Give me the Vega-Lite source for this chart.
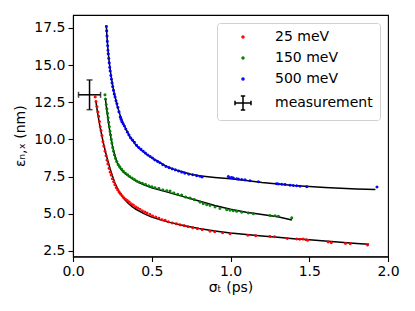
{
  "$schema": "https://vega.github.io/schema/vega-lite/v6.json",
  "width": 315,
  "height": 241.5,
  "autosize": {"type": "none"},
  "padding": {"left": 73, "top": 15, "right": 27, "bottom": 54.5},
  "background": "white",
  "config": {
    "font": "DejaVu Sans",
    "view": {"stroke": "black", "strokeWidth": 1.1},
    "axis": {
      "grid": false,
      "domainColor": "black",
      "domainWidth": 1.1,
      "tickColor": "black",
      "tickWidth": 1.1,
      "tickSize": 5,
      "labelFont": "DejaVu Sans",
      "labelFontSize": 14,
      "labelColor": "black",
      "labelPadding": 3,
      "labelFlush": false,
      "titleFont": "DejaVu Sans",
      "titleFontSize": 14,
      "titleFontWeight": "normal",
      "titleColor": "black"
    }
  },
  "datasets": {
    "pts": [
      {"s": "25 meV", "x": 0.141, "y": 12.85}, {"s": "25 meV", "x": 0.146, "y": 12.55}, {"s": "25 meV", "x": 0.152, "y": 12.2}, {"s": "25 meV", "x": 0.158, "y": 11.85}, {"s": "25 meV", "x": 0.163, "y": 11.55}, {"s": "25 meV", "x": 0.168, "y": 11.2}, {"s": "25 meV", "x": 0.173, "y": 10.85}, {"s": "25 meV", "x": 0.178, "y": 10.6}, {"s": "25 meV", "x": 0.184, "y": 10.25}, {"s": "25 meV", "x": 0.19, "y": 9.85}, {"s": "25 meV", "x": 0.196, "y": 9.55}, {"s": "25 meV", "x": 0.203, "y": 9.2}, {"s": "25 meV", "x": 0.21, "y": 8.9}, {"s": "25 meV", "x": 0.216, "y": 8.6}, {"s": "25 meV", "x": 0.222, "y": 8.35}, {"s": "25 meV", "x": 0.229, "y": 8.05}, {"s": "25 meV", "x": 0.236, "y": 7.8}, {"s": "25 meV", "x": 0.243, "y": 7.6}, {"s": "25 meV", "x": 0.25, "y": 7.35}, {"s": "25 meV", "x": 0.258, "y": 7.15}, {"s": "25 meV", "x": 0.266, "y": 6.95}, {"s": "25 meV", "x": 0.275, "y": 6.75}, {"s": "25 meV", "x": 0.284, "y": 6.6}, {"s": "25 meV", "x": 0.293, "y": 6.45}, {"s": "25 meV", "x": 0.302, "y": 6.33}, {"s": "25 meV", "x": 0.312, "y": 6.2}, {"s": "25 meV", "x": 0.322, "y": 6.08}, {"s": "25 meV", "x": 0.333, "y": 5.97}, {"s": "25 meV", "x": 0.345, "y": 5.88}, {"s": "25 meV", "x": 0.357, "y": 5.78}, {"s": "25 meV", "x": 0.37, "y": 5.67}, {"s": "25 meV", "x": 0.383, "y": 5.58}, {"s": "25 meV", "x": 0.397, "y": 5.47}, {"s": "25 meV", "x": 0.41, "y": 5.38}, {"s": "25 meV", "x": 0.425, "y": 5.3}, {"s": "25 meV", "x": 0.44, "y": 5.2}, {"s": "25 meV", "x": 0.455, "y": 5.12}, {"s": "25 meV", "x": 0.47, "y": 5.05}, {"s": "25 meV", "x": 0.488, "y": 4.95}, {"s": "25 meV", "x": 0.505, "y": 4.85}, {"s": "25 meV", "x": 0.525, "y": 4.78}, {"s": "25 meV", "x": 0.545, "y": 4.7}, {"s": "25 meV", "x": 0.565, "y": 4.6}, {"s": "25 meV", "x": 0.585, "y": 4.55}, {"s": "25 meV", "x": 0.605, "y": 4.46}, {"s": "25 meV", "x": 0.63, "y": 4.38}, {"s": "25 meV", "x": 0.655, "y": 4.33}, {"s": "25 meV", "x": 0.68, "y": 4.25}, {"s": "25 meV", "x": 0.705, "y": 4.2}, {"s": "25 meV", "x": 0.73, "y": 4.12}, {"s": "25 meV", "x": 0.76, "y": 4.06}, {"s": "25 meV", "x": 0.79, "y": 4.0}, {"s": "25 meV", "x": 0.82, "y": 3.93}, {"s": "25 meV", "x": 0.87, "y": 3.82}, {"s": "25 meV", "x": 0.9, "y": 3.79}, {"s": "25 meV", "x": 0.95, "y": 3.72}, {"s": "25 meV", "x": 0.997, "y": 3.65}, {"s": "25 meV", "x": 1.11, "y": 3.55}, {"s": "25 meV", "x": 1.16, "y": 3.52}, {"s": "25 meV", "x": 1.25, "y": 3.47}, {"s": "25 meV", "x": 1.28, "y": 3.45}, {"s": "25 meV", "x": 1.36, "y": 3.33}, {"s": "25 meV", "x": 1.42, "y": 3.3}, {"s": "25 meV", "x": 1.44, "y": 3.28}, {"s": "25 meV", "x": 1.46, "y": 3.3}, {"s": "25 meV", "x": 1.48, "y": 3.25}, {"s": "25 meV", "x": 1.49, "y": 3.22}, {"s": "25 meV", "x": 1.62, "y": 3.1}, {"s": "25 meV", "x": 1.64, "y": 3.05}, {"s": "25 meV", "x": 1.73, "y": 3.0}, {"s": "25 meV", "x": 1.76, "y": 2.98}, {"s": "25 meV", "x": 1.87, "y": 2.9},
      {"s": "150 meV", "x": 0.203, "y": 13.0}, {"s": "150 meV", "x": 0.207, "y": 12.7}, {"s": "150 meV", "x": 0.211, "y": 12.35}, {"s": "150 meV", "x": 0.215, "y": 12.05}, {"s": "150 meV", "x": 0.219, "y": 11.75}, {"s": "150 meV", "x": 0.223, "y": 11.45}, {"s": "150 meV", "x": 0.227, "y": 11.15}, {"s": "150 meV", "x": 0.231, "y": 10.85}, {"s": "150 meV", "x": 0.235, "y": 10.55}, {"s": "150 meV", "x": 0.239, "y": 10.3}, {"s": "150 meV", "x": 0.243, "y": 10.0}, {"s": "150 meV", "x": 0.247, "y": 9.75}, {"s": "150 meV", "x": 0.252, "y": 9.45}, {"s": "150 meV", "x": 0.257, "y": 9.2}, {"s": "150 meV", "x": 0.263, "y": 8.95}, {"s": "150 meV", "x": 0.27, "y": 8.72}, {"s": "150 meV", "x": 0.278, "y": 8.5}, {"s": "150 meV", "x": 0.287, "y": 8.3}, {"s": "150 meV", "x": 0.297, "y": 8.15}, {"s": "150 meV", "x": 0.308, "y": 8.0}, {"s": "150 meV", "x": 0.32, "y": 7.85}, {"s": "150 meV", "x": 0.333, "y": 7.72}, {"s": "150 meV", "x": 0.347, "y": 7.62}, {"s": "150 meV", "x": 0.36, "y": 7.5}, {"s": "150 meV", "x": 0.375, "y": 7.4}, {"s": "150 meV", "x": 0.39, "y": 7.3}, {"s": "150 meV", "x": 0.405, "y": 7.2}, {"s": "150 meV", "x": 0.42, "y": 7.12}, {"s": "150 meV", "x": 0.44, "y": 7.05}, {"s": "150 meV", "x": 0.46, "y": 6.97}, {"s": "150 meV", "x": 0.48, "y": 6.88}, {"s": "150 meV", "x": 0.5, "y": 6.82}, {"s": "150 meV", "x": 0.52, "y": 6.75}, {"s": "150 meV", "x": 0.545, "y": 6.7}, {"s": "150 meV", "x": 0.57, "y": 6.6}, {"s": "150 meV", "x": 0.595, "y": 6.55}, {"s": "150 meV", "x": 0.616, "y": 6.52}, {"s": "150 meV", "x": 0.64, "y": 6.4}, {"s": "150 meV", "x": 0.665, "y": 6.3}, {"s": "150 meV", "x": 0.69, "y": 6.25}, {"s": "150 meV", "x": 0.715, "y": 6.12}, {"s": "150 meV", "x": 0.743, "y": 6.05}, {"s": "150 meV", "x": 0.77, "y": 5.95}, {"s": "150 meV", "x": 0.806, "y": 5.78}, {"s": "150 meV", "x": 0.827, "y": 5.68}, {"s": "150 meV", "x": 0.849, "y": 5.6}, {"s": "150 meV", "x": 0.87, "y": 5.55}, {"s": "150 meV", "x": 0.902, "y": 5.45}, {"s": "150 meV", "x": 0.933, "y": 5.35}, {"s": "150 meV", "x": 0.976, "y": 5.27}, {"s": "150 meV", "x": 0.997, "y": 5.24}, {"s": "150 meV", "x": 1.018, "y": 5.2}, {"s": "150 meV", "x": 1.039, "y": 5.16}, {"s": "150 meV", "x": 1.071, "y": 5.1}, {"s": "150 meV", "x": 1.113, "y": 5.05}, {"s": "150 meV", "x": 1.145, "y": 5.0}, {"s": "150 meV", "x": 1.251, "y": 4.88}, {"s": "150 meV", "x": 1.283, "y": 4.86}, {"s": "150 meV", "x": 1.304, "y": 4.83}, {"s": "150 meV", "x": 1.389, "y": 4.72},
      {"s": "500 meV", "x": 0.212, "y": 17.6}, {"s": "500 meV", "x": 0.214, "y": 17.3}, {"s": "500 meV", "x": 0.216, "y": 16.95}, {"s": "500 meV", "x": 0.218, "y": 16.6}, {"s": "500 meV", "x": 0.22, "y": 16.3}, {"s": "500 meV", "x": 0.222, "y": 16.0}, {"s": "500 meV", "x": 0.224, "y": 15.75}, {"s": "500 meV", "x": 0.227, "y": 15.45}, {"s": "500 meV", "x": 0.23, "y": 15.15}, {"s": "500 meV", "x": 0.233, "y": 14.85}, {"s": "500 meV", "x": 0.236, "y": 14.6}, {"s": "500 meV", "x": 0.24, "y": 14.3}, {"s": "500 meV", "x": 0.244, "y": 14.05}, {"s": "500 meV", "x": 0.248, "y": 13.8}, {"s": "500 meV", "x": 0.252, "y": 13.55}, {"s": "500 meV", "x": 0.257, "y": 13.3}, {"s": "500 meV", "x": 0.262, "y": 13.05}, {"s": "500 meV", "x": 0.267, "y": 12.85}, {"s": "500 meV", "x": 0.273, "y": 12.6}, {"s": "500 meV", "x": 0.279, "y": 12.4}, {"s": "500 meV", "x": 0.285, "y": 12.15}, {"s": "500 meV", "x": 0.292, "y": 11.85}, {"s": "500 meV", "x": 0.3, "y": 11.5}, {"s": "500 meV", "x": 0.305, "y": 11.35}, {"s": "500 meV", "x": 0.31, "y": 11.2}, {"s": "500 meV", "x": 0.318, "y": 11.05}, {"s": "500 meV", "x": 0.326, "y": 10.9}, {"s": "500 meV", "x": 0.335, "y": 10.7}, {"s": "500 meV", "x": 0.345, "y": 10.5}, {"s": "500 meV", "x": 0.355, "y": 10.3}, {"s": "500 meV", "x": 0.366, "y": 10.1}, {"s": "500 meV", "x": 0.378, "y": 9.95}, {"s": "500 meV", "x": 0.39, "y": 9.8}, {"s": "500 meV", "x": 0.404, "y": 9.6}, {"s": "500 meV", "x": 0.418, "y": 9.45}, {"s": "500 meV", "x": 0.432, "y": 9.33}, {"s": "500 meV", "x": 0.446, "y": 9.2}, {"s": "500 meV", "x": 0.46, "y": 9.08}, {"s": "500 meV", "x": 0.475, "y": 8.95}, {"s": "500 meV", "x": 0.49, "y": 8.85}, {"s": "500 meV", "x": 0.505, "y": 8.75}, {"s": "500 meV", "x": 0.52, "y": 8.62}, {"s": "500 meV", "x": 0.537, "y": 8.52}, {"s": "500 meV", "x": 0.552, "y": 8.43}, {"s": "500 meV", "x": 0.57, "y": 8.3}, {"s": "500 meV", "x": 0.59, "y": 8.18}, {"s": "500 meV", "x": 0.61, "y": 8.1}, {"s": "500 meV", "x": 0.63, "y": 8.02}, {"s": "500 meV", "x": 0.65, "y": 7.95}, {"s": "500 meV", "x": 0.67, "y": 7.88}, {"s": "500 meV", "x": 0.69, "y": 7.8}, {"s": "500 meV", "x": 0.71, "y": 7.73}, {"s": "500 meV", "x": 0.735, "y": 7.66}, {"s": "500 meV", "x": 0.76, "y": 7.62}, {"s": "500 meV", "x": 0.785, "y": 7.56}, {"s": "500 meV", "x": 0.806, "y": 7.52}, {"s": "500 meV", "x": 0.82, "y": 7.47}, {"s": "500 meV", "x": 0.986, "y": 7.5}, {"s": "500 meV", "x": 0.997, "y": 7.42}, {"s": "500 meV", "x": 1.008, "y": 7.43}, {"s": "500 meV", "x": 1.018, "y": 7.4}, {"s": "500 meV", "x": 1.039, "y": 7.35}, {"s": "500 meV", "x": 1.05, "y": 7.33}, {"s": "500 meV", "x": 1.071, "y": 7.3}, {"s": "500 meV", "x": 1.092, "y": 7.28}, {"s": "500 meV", "x": 1.124, "y": 7.22}, {"s": "500 meV", "x": 1.177, "y": 7.15}, {"s": "500 meV", "x": 1.293, "y": 7.02}, {"s": "500 meV", "x": 1.304, "y": 7.0}, {"s": "500 meV", "x": 1.325, "y": 6.98}, {"s": "500 meV", "x": 1.346, "y": 6.97}, {"s": "500 meV", "x": 1.378, "y": 6.92}, {"s": "500 meV", "x": 1.399, "y": 6.9}, {"s": "500 meV", "x": 1.42, "y": 6.88}, {"s": "500 meV", "x": 1.441, "y": 6.85}, {"s": "500 meV", "x": 1.484, "y": 6.82}, {"s": "500 meV", "x": 1.93, "y": 6.8}
    ],
    "fits": [
      {"s": "25 meV", "x": 0.145, "y": 12.6}, {"s": "25 meV", "x": 0.15, "y": 12.2}, {"s": "25 meV", "x": 0.16, "y": 11.55}, {"s": "25 meV", "x": 0.17, "y": 10.95}, {"s": "25 meV", "x": 0.18, "y": 10.4}, {"s": "25 meV", "x": 0.19, "y": 9.9}, {"s": "25 meV", "x": 0.2, "y": 9.45}, {"s": "25 meV", "x": 0.21, "y": 9.0}, {"s": "25 meV", "x": 0.22, "y": 8.6}, {"s": "25 meV", "x": 0.235, "y": 8.05}, {"s": "25 meV", "x": 0.25, "y": 7.55}, {"s": "25 meV", "x": 0.265, "y": 7.1}, {"s": "25 meV", "x": 0.28, "y": 6.75}, {"s": "25 meV", "x": 0.3, "y": 6.35}, {"s": "25 meV", "x": 0.325, "y": 5.98}, {"s": "25 meV", "x": 0.35, "y": 5.7}, {"s": "25 meV", "x": 0.375, "y": 5.48}, {"s": "25 meV", "x": 0.4, "y": 5.3}, {"s": "25 meV", "x": 0.45, "y": 5.0}, {"s": "25 meV", "x": 0.5, "y": 4.77}, {"s": "25 meV", "x": 0.55, "y": 4.6}, {"s": "25 meV", "x": 0.6, "y": 4.45}, {"s": "25 meV", "x": 0.7, "y": 4.2}, {"s": "25 meV", "x": 0.8, "y": 4.0}, {"s": "25 meV", "x": 0.9, "y": 3.84}, {"s": "25 meV", "x": 1.0, "y": 3.7}, {"s": "25 meV", "x": 1.1, "y": 3.6}, {"s": "25 meV", "x": 1.2, "y": 3.5}, {"s": "25 meV", "x": 1.3, "y": 3.41}, {"s": "25 meV", "x": 1.4, "y": 3.32}, {"s": "25 meV", "x": 1.5, "y": 3.24}, {"s": "25 meV", "x": 1.6, "y": 3.16}, {"s": "25 meV", "x": 1.7, "y": 3.08}, {"s": "25 meV", "x": 1.8, "y": 3.0}, {"s": "25 meV", "x": 1.88, "y": 2.95},
      {"s": "150 meV", "x": 0.205, "y": 12.8}, {"s": "150 meV", "x": 0.21, "y": 12.35}, {"s": "150 meV", "x": 0.215, "y": 11.95}, {"s": "150 meV", "x": 0.22, "y": 11.55}, {"s": "150 meV", "x": 0.225, "y": 11.15}, {"s": "150 meV", "x": 0.23, "y": 10.8}, {"s": "150 meV", "x": 0.24, "y": 10.15}, {"s": "150 meV", "x": 0.25, "y": 9.6}, {"s": "150 meV", "x": 0.26, "y": 9.15}, {"s": "150 meV", "x": 0.27, "y": 8.75}, {"s": "150 meV", "x": 0.28, "y": 8.45}, {"s": "150 meV", "x": 0.3, "y": 8.05}, {"s": "150 meV", "x": 0.32, "y": 7.8}, {"s": "150 meV", "x": 0.35, "y": 7.55}, {"s": "150 meV", "x": 0.4, "y": 7.2}, {"s": "150 meV", "x": 0.45, "y": 6.95}, {"s": "150 meV", "x": 0.5, "y": 6.75}, {"s": "150 meV", "x": 0.6, "y": 6.45}, {"s": "150 meV", "x": 0.7, "y": 6.15}, {"s": "150 meV", "x": 0.8, "y": 5.85}, {"s": "150 meV", "x": 0.9, "y": 5.55}, {"s": "150 meV", "x": 1.0, "y": 5.3}, {"s": "150 meV", "x": 1.1, "y": 5.1}, {"s": "150 meV", "x": 1.2, "y": 4.95}, {"s": "150 meV", "x": 1.3, "y": 4.8}, {"s": "150 meV", "x": 1.39, "y": 4.58},
      {"s": "500 meV", "x": 0.212, "y": 17.6}, {"s": "500 meV", "x": 0.215, "y": 17.0}, {"s": "500 meV", "x": 0.22, "y": 16.3}, {"s": "500 meV", "x": 0.225, "y": 15.7}, {"s": "500 meV", "x": 0.23, "y": 15.2}, {"s": "500 meV", "x": 0.24, "y": 14.4}, {"s": "500 meV", "x": 0.25, "y": 13.75}, {"s": "500 meV", "x": 0.26, "y": 13.2}, {"s": "500 meV", "x": 0.27, "y": 12.75}, {"s": "500 meV", "x": 0.28, "y": 12.3}, {"s": "500 meV", "x": 0.29, "y": 11.95}, {"s": "500 meV", "x": 0.3, "y": 11.6}, {"s": "500 meV", "x": 0.32, "y": 11.05}, {"s": "500 meV", "x": 0.34, "y": 10.6}, {"s": "500 meV", "x": 0.36, "y": 10.2}, {"s": "500 meV", "x": 0.38, "y": 9.9}, {"s": "500 meV", "x": 0.4, "y": 9.6}, {"s": "500 meV", "x": 0.43, "y": 9.3}, {"s": "500 meV", "x": 0.46, "y": 9.05}, {"s": "500 meV", "x": 0.5, "y": 8.75}, {"s": "500 meV", "x": 0.55, "y": 8.45}, {"s": "500 meV", "x": 0.6, "y": 8.15}, {"s": "500 meV", "x": 0.65, "y": 7.95}, {"s": "500 meV", "x": 0.7, "y": 7.8}, {"s": "500 meV", "x": 0.75, "y": 7.65}, {"s": "500 meV", "x": 0.8, "y": 7.55}, {"s": "500 meV", "x": 0.9, "y": 7.44}, {"s": "500 meV", "x": 1.0, "y": 7.35}, {"s": "500 meV", "x": 1.1, "y": 7.23}, {"s": "500 meV", "x": 1.2, "y": 7.1}, {"s": "500 meV", "x": 1.3, "y": 7.0}, {"s": "500 meV", "x": 1.4, "y": 6.9}, {"s": "500 meV", "x": 1.5, "y": 6.83}, {"s": "500 meV", "x": 1.6, "y": 6.77}, {"s": "500 meV", "x": 1.7, "y": 6.72}, {"s": "500 meV", "x": 1.8, "y": 6.67}, {"s": "500 meV", "x": 1.92, "y": 6.62}
    ],
    "meas": [
      {"s": "measurement", "x": 0.105, "y": 13.0, "xlo": 0.035, "xhi": 0.175, "ylo": 12.0, "yhi": 14.0}
    ]
  },
  "layer": [
    {
      "data": {"name": "fits"},
      "mark": {"type": "line", "color": "black", "strokeWidth": 1.5},
      "encoding": {
        "x": {"field": "x", "type": "quantitative", "scale": {"domain": [0, 2], "nice": false, "zero": false},
              "axis": {"values": [0, 0.5, 1, 1.5, 2], "format": ".1f", "title": "σₜ (ps)", "titlePadding": 2}},
        "y": {"field": "y", "type": "quantitative", "scale": {"domain": [2.12, 18.37], "nice": false, "zero": false},
              "axis": {"values": [2.5, 5, 7.5, 10, 12.5, 15, 17.5], "format": ".1f", "title": "εₙ,ₓ (nm)", "titlePadding": 6}},
        "detail": {"field": "s"}
      }
    },
    {
      "data": {"name": "pts"},
      "mark": {"type": "point", "filled": false, "size": 3, "strokeWidth": 1.3, "opacity": 1},
      "encoding": {
        "x": {"field": "x", "type": "quantitative"},
        "y": {"field": "y", "type": "quantitative"},
        "shape": {
          "field": "s", "type": "nominal",
          "scale": {"domain": ["25 meV", "150 meV", "500 meV", "measurement"],
                    "range": ["circle", "circle", "circle", "M-8,0H8M0,-7V7M-8,-2.2V2.2M8,-2.2V2.2M-2.2,-7H2.2M-2.2,7H2.2"]},
          "legend": null
        },
        "color": {
          "field": "s", "type": "nominal",
          "scale": {"domain": ["25 meV", "150 meV", "500 meV", "measurement"], "range": ["#ff0000", "#008000", "#0000ff", "#000000"]},
          "legend": {
            "title": null,
            "orient": "top-right",
            "offset": 8,
            "padding": 7,
            "strokeColor": "#d0d0d0",
            "fillColor": "rgba(255,255,255,0.8)",
            "cornerRadius": 3,
            "labelFont": "DejaVu Sans",
            "labelFontSize": 14,
            "labelColor": "black",
            "symbolSize": 4,
            "symbolStrokeWidth": 1.5,
            "symbolOffset": 12,
            "labelOffset": 25,
            "rowPadding": 7
          }
        }
      }
    },
    {
      "data": {"name": "meas"},
      "mark": {"type": "rule", "color": "black", "strokeWidth": 1.5},
      "encoding": {
        "x": {"field": "xlo", "type": "quantitative"},
        "x2": {"field": "xhi"},
        "y": {"field": "y", "type": "quantitative"}
      }
    },
    {
      "data": {"name": "meas"},
      "mark": {"type": "rule", "color": "black", "strokeWidth": 1.5},
      "encoding": {
        "x": {"field": "x", "type": "quantitative"},
        "y": {"field": "ylo", "type": "quantitative"},
        "y2": {"field": "yhi"}
      }
    },
    {
      "data": {"name": "meas"},
      "layer": [
        {"mark": {"type": "tick", "orient": "vertical", "color": "black", "thickness": 1.5, "size": 6},
         "encoding": {"x": {"field": "xlo", "type": "quantitative"}, "y": {"field": "y", "type": "quantitative"}}},
        {"mark": {"type": "tick", "orient": "vertical", "color": "black", "thickness": 1.5, "size": 6},
         "encoding": {"x": {"field": "xhi", "type": "quantitative"}, "y": {"field": "y", "type": "quantitative"}}},
        {"mark": {"type": "tick", "orient": "horizontal", "color": "black", "thickness": 1.5, "size": 6},
         "encoding": {"x": {"field": "x", "type": "quantitative"}, "y": {"field": "ylo", "type": "quantitative"}}},
        {"mark": {"type": "tick", "orient": "horizontal", "color": "black", "thickness": 1.5, "size": 6},
         "encoding": {"x": {"field": "x", "type": "quantitative"}, "y": {"field": "yhi", "type": "quantitative"}}}
      ]
    }
  ]
}
